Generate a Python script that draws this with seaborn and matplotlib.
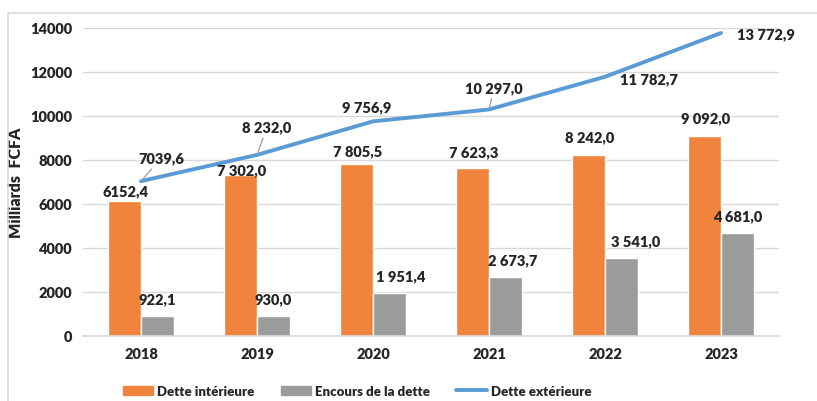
import numpy as np
import pandas as pd
import matplotlib.pyplot as plt
import seaborn as sns
from matplotlib.patches import Rectangle

# Data
years = ['2018', '2019', '2020', '2021', '2022', '2023']
dette_int = [6152.4, 7302.0, 7805.5, 7623.3, 8242.0, 9092.0]
encours = [922.1, 930.0, 1951.4, 2673.7, 3541.0, 4681.0]
dette_ext = [7039.6, 8232.0, 9756.9, 10297.0, 11782.7, 13772.9]

lab_int = ['6152,4', '7 302,0', '7 805,5', '7 623,3', '8 242,0', '9 092,0']
lab_enc = ['922,1', '930,0', '1 951,4', '2 673,7', '3 541,0', '4 681,0']
lab_ext = ['7039,6', '8 232,0', '9 756,9', '10 297,0', '11 782,7', '13 772,9']

ORANGE = '#F0843C'
GRAY = '#9A9C9C'
BLUE = '#5B9BD5'

sns.set_theme(style='white')
plt.rcParams['font.family'] = ['Lato', 'DejaVu Sans']
W = 'heavy'
FS = 10.5
plt.rcParams['font.weight'] = W

df = pd.DataFrame({
    'Année': years * 2,
    'Valeur': dette_int + encours,
    'Série': ['Dette intérieure'] * 6 + ['Encours de la dette'] * 6,
})

fig = plt.figure(figsize=(8.17, 4.02), dpi=100)
ax = fig.add_axes([83 / 817, 1 - 337 / 402, 696 / 817, 308 / 402])

sns.barplot(data=df, x='Année', y='Valeur', hue='Série',
            palette=[ORANGE, GRAY], width=0.57, gap=0, saturation=1,
            ax=ax, legend=False)
sns.lineplot(x=np.arange(len(years)), y=dette_ext, color=BLUE,
             linewidth=2.8, ax=ax, label=None)

ax.set_xlim(-0.5, 5.5)
ax.set_ylim(0, 14000)
ax.set_yticks(range(0, 14001, 2000))
ax.yaxis.grid(True, color='#D9D9D9', linewidth=1)
ax.set_axisbelow(True)
for s in ['top', 'right', 'left']:
    ax.spines[s].set_visible(False)
ax.spines['bottom'].set_color('#D9D9D9')
ax.tick_params(axis='both', length=0, labelsize=FS, pad=8)
for t in ax.get_xticklabels() + ax.get_yticklabels():
    t.set_fontweight(W)
ax.set_xlabel('')
ax.set_ylabel('Milliards  FCFA', fontsize=FS + 1, fontweight=W)
ax.yaxis.set_label_coords(-(83 - 24) / 696, 0.5)

# bar labels
bw = 0.285
int_dy = [10, 6, 14, 17, 18, 18]
for i, (v, s) in enumerate(zip(dette_int, lab_int)):
    ax.annotate(s, (i - bw / 2, v), xytext=(1, int_dy[i]), textcoords='offset pixels',
                ha='center', va='center', fontsize=FS, fontweight=W)
enc_dx = [0, 0, 11, 7, 14, 0]
for i, (v, s) in enumerate(zip(encours, lab_enc)):
    ax.annotate(s, (i + bw / 2, v), xytext=(enc_dx[i], 17), textcoords='offset pixels',
                ha='center', va='center', fontsize=FS, fontweight=W)

# line labels
ext_off = [(20, 23), (10, 28), (-6, 15), (5, 22), (44, -2), (45, -1)]
leader = [True, True, False, True, False, False]
for i, (v, s) in enumerate(zip(dette_ext, lab_ext)):
    kw = {}
    if leader[i]:
        kw['arrowprops'] = dict(arrowstyle='-', color='#A6A6A6', lw=1, shrinkA=1, shrinkB=1)
    ax.annotate(s, (i, v), xytext=ext_off[i], textcoords='offset pixels',
                ha='center', va='center', fontsize=FS, fontweight=W, **kw)

# legend
handles = [Rectangle((0, 0), 1, 1, color=ORANGE),
           Rectangle((0, 0), 1, 1, color=GRAY),
           plt.Line2D([0], [0], color=BLUE, linewidth=2.8)]
fig.legend(handles, ['Dette intérieure', 'Encours de la dette', 'Dette extérieure'],
           loc='center', bbox_to_anchor=(357 / 817, 1 - 392 / 402), ncol=3, frameon=False,
           handlelength=2.3, handleheight=0.7, handletextpad=0.3,
           columnspacing=2.0, prop={'weight': W, 'size': 9.5})

# light frame (left and top edges visible)
fig.patches.append(Rectangle((8 / 817, -0.05), 1.2, 1 - 14 / 402 + 0.05,
                             transform=fig.transFigure, fill=False,
                             edgecolor='#D9D9D9', linewidth=1.2))

fig.savefig('out.png', dpi=100)
